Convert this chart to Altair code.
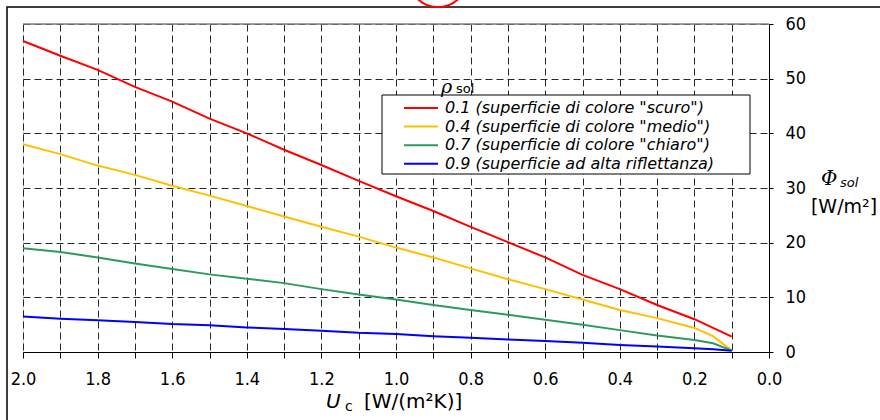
import altair as alt
import pandas as pd

# ---- data ----
x_red = [2.0, 1.9, 1.8, 1.7, 1.6, 1.5, 1.4, 1.3, 1.2, 1.1, 1.0, 0.9, 0.8, 0.7, 0.6, 0.5, 0.4, 0.3, 0.2, 0.1]
y_red = [56.9, 54.2, 51.6, 48.5, 45.8, 42.7, 40.0, 37.0, 34.2, 31.3, 28.5, 25.8, 22.9, 20.1, 17.3, 14.1, 11.5, 8.6, 6.0, 2.8]

x_other = [2.0, 1.9, 1.8, 1.7, 1.6, 1.5, 1.4, 1.3, 1.2, 1.1, 1.0, 0.9, 0.8, 0.7, 0.6, 0.5, 0.4, 0.3, 0.2, 0.15, 0.1]
y_yellow = [38.0, 36.2, 34.1, 32.4, 30.4, 28.6, 26.7, 24.8, 22.9, 21.1, 19.1, 17.3, 15.3, 13.3, 11.5, 9.6, 7.7, 6.2, 4.4, 2.9, 0.25]
y_green = [19.0, 18.3, 17.3, 16.2, 15.2, 14.2, 13.4, 12.6, 11.5, 10.5, 9.6, 8.6, 7.7, 6.8, 5.9, 5.0, 4.0, 3.0, 2.2, 1.6, 0.25]
y_blue = [6.5, 6.1, 5.8, 5.5, 5.1, 4.9, 4.5, 4.2, 3.9, 3.5, 3.3, 2.9, 2.6, 2.3, 2.0, 1.7, 1.3, 1.0, 0.7, 0.5, 0.25]

series_labels = [
    '0.1 (superficie di colore "scuro")',
    '0.4 (superficie di colore "medio")',
    '0.7 (superficie di colore "chiaro")',
    '0.9 (superficie ad alta riflettanza)',
]
series_colors = ["#FF0000", "#FFC000", "#2E9A5E", "#0000FF"]

x_ticks = [round(i * 0.1, 1) for i in range(0, 21)]
y_ticks = list(range(0, 65, 5))

rows = []
for xs, ys, lab in [(x_red, y_red, series_labels[0]),
                    (x_other, y_yellow, series_labels[1]),
                    (x_other, y_green, series_labels[2]),
                    (x_other, y_blue, series_labels[3])]:
    for i, (a, b) in enumerate(zip(xs, ys)):
        rows.append({"U": a, "Phi": b, "series": lab, "order": i})
df = pd.DataFrame(rows)
one = pd.DataFrame({"k": [0]})

FONT = "DejaVu Sans Condensed"
TFONT = "DejaVu Sans"
SERIF = "DejaVu Serif"
OX, OY = 23, 24  # plot origin in page pixels

xscale = alt.Scale(domain=[0, 2], reverse=True, nice=False)
yscale = alt.Scale(domain=[0, 60], nice=False)

lines = alt.Chart(df).mark_line(strokeWidth=2).encode(
    x=alt.X("U:Q", scale=xscale,
            axis=alt.Axis(values=x_ticks, title=None, grid=True,
                          gridDash=[7, 4], gridColor="#111", gridOpacity=0.9,
                          labelExpr="round(datum.value*10)%2==0 ? format(datum.value,'.1f') : ''",
                          labelFont=FONT, labelFontSize=18, labelColor="black",
                          labelPadding=12, tickSize=6, tickColor="black",
                          domainColor="black", labelFlush=False, labelOverlap=False)),
    y=alt.Y("Phi:Q", scale=yscale,
            axis=alt.Axis(orient="right", values=y_ticks, title=None, grid=True,
                          gridDash=[7, 4], gridColor="#111", gridOpacity=0.9,
                          labelExpr="datum.value%10==0 ? datum.value : ''",
                          labelFont=FONT, labelFontSize=18, labelColor="black",
                          labelPadding=12, tickSize=4, tickColor="black",
                          domainColor="black", labelOverlap=False)),
    color=alt.Color("series:N",
                    scale=alt.Scale(domain=series_labels, range=series_colors),
                    legend=alt.Legend(orient="none", legendX=380, legendY=76,
                                      title=None, symbolType="stroke",
                                      symbolSize=1156, symbolStrokeWidth=2,
                                      clipHeight=16,
                                      labelFont=TFONT, labelFontSize=16,
                                      labelFontStyle="italic", labelColor="black",
                                      labelOffset=6, padding=0, rowPadding=2.6,
                                      labelLimit=500)),
    order="order:Q",
)

frame = alt.Chart(one).mark_rect(fillOpacity=0, stroke="black", strokeWidth=1.5).encode(
    x=alt.value(7 - OX), x2=alt.value(900), y=alt.value(7 - OY), y2=alt.value(500))

top_rule = alt.Chart(one).mark_rule(color="#808080", strokeWidth=1.5).encode(
    y=alt.datum(60, scale=yscale))

legend_box = alt.Chart(one).mark_rect(fill="white", stroke="black", strokeWidth=1).encode(
    x=alt.value(382 - OX), x2=alt.value(750 - OX), y=alt.value(95 - OY), y2=alt.value(174 - OY))

circle = alt.Chart(one).mark_point(shape="circle", filled=False, color="#FF0000",
                                   strokeWidth=2, size=3600, opacity=1).encode(
    x=alt.value(438 - OX), y=alt.value(-23 - OY))


def txt(text, x, y, size=18, font=FONT, style="normal", align="left", baseline="alphabetic"):
    return alt.Chart(one).mark_text(text=text, font=font, fontSize=size, fontStyle=style,
                                    align=align, baseline=baseline, color="black").encode(
        x=alt.value(x - OX), y=alt.value(y - OY))


texts = [
    txt("U", 326, 408, 20, TFONT, "italic"),
    txt("c", 345, 411, 14, TFONT),
    txt("[W/(m²K)]", 364, 408, 20, TFONT),
    txt("Φ", 821, 185, 20, SERIF, "italic"),
    txt("sol", 840, 187, 13, TFONT, "italic"),
    txt("[W/m²]", 844, 213, 19, TFONT, align="center"),
    txt("ρ", 441, 93, 19, SERIF, "italic"),
    txt("sol", 456, 93, 13, TFONT),
]

chart = alt.layer(frame, top_rule, legend_box, lines, circle, *texts).properties(
    width=746, height=328,
    padding={"left": OX, "top": OY, "right": 880 - 746 - OX, "bottom": 420 - 328 - OY},
    autosize=alt.AutoSizeParams(type="none"),
).configure_view(stroke=None).configure(background="white")

chart.save("out.html", embed_options={"renderer": "svg", "actions": False})
